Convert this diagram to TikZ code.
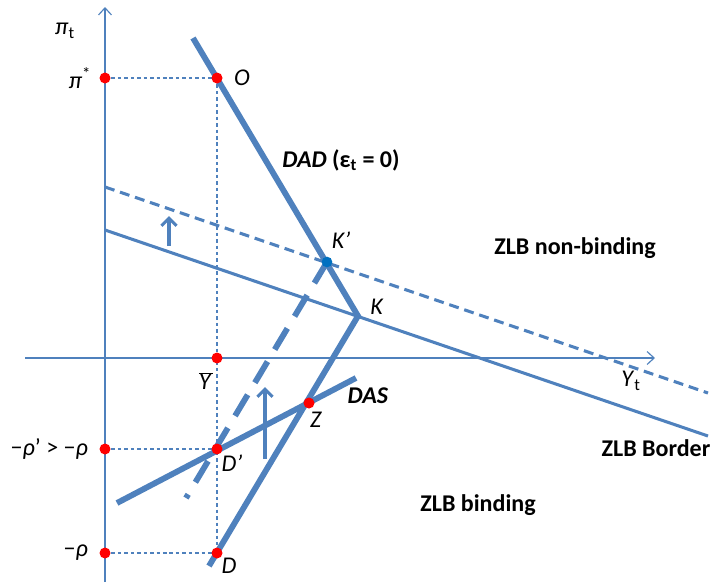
\documentclass[tikz,border=0pt]{standalone}
\usepackage{fontspec}
\setmainfont{Carlito}
\usepackage{tikz}
\usetikzlibrary{arrows.meta, positioning}
\usepackage{xcolor}
\definecolor{cLine}{RGB}{79,129,189}
\definecolor{cRed}{RGB}{255,0,0}
\definecolor{cKdot}{RGB}{0,112,192}
\tikzset{
  axisline/.style={draw=cLine, line width=1pt,
                   -{Straight Barb[length=6pt, width=11pt]}},
  guideline/.style={draw=cLine, line width=0.9pt, dash pattern=on 3pt off 2.5pt},
  curveline/.style={draw=cLine, line width=5pt},
  curvedashed/.style={curveline, dash pattern=on 21pt off 12pt},
  zlbline/.style={draw=cLine, line width=2.6pt},
  zlbdashed/.style={zlbline, dash pattern=on 8.5pt off 5pt},
  shiftarrow/.style={draw=cLine, line width=2.6pt,
                     -{Straight Barb[length=6.5pt, width=13pt]}},
  reddot/.style={circle, fill=cRed, inner sep=0pt, minimum size=0.33cm},
  bluedot/.style={circle, fill=cKdot, inner sep=0pt, minimum size=0.32cm},
  lbl/.style={font=\fontsize{20.5}{24}\selectfont, inner sep=1pt},
  boldlbl/.style={font=\fontsize{20.5}{24}\selectfont\bfseries, inner sep=1pt}
}

\begin{document}
\begin{tikzpicture}[x=0.03cm, y=-0.03cm]
  \useasboundingbox (0,0) rectangle (714,583);

  % ── Axes ──
  \coordinate (ybot) at (105,582);
  \coordinate (ytop) at (105,7);
  \coordinate (xleft) at (25,358);
  \coordinate (xright) at (655,358);
  \draw[axisline] (ybot) -- (ytop);
  \draw[axisline] (xleft) -- (xright);

  % ── Points ──
  \coordinate (O) at (217,78);
  \coordinate (Ybar) at (217,358);
  \coordinate (Dp) at (217,449);
  \coordinate (D) at (217,553);
  \coordinate (Z) at (309,403);
  \coordinate (K) at (358,316);
  \coordinate (Kp) at (327,262);
  \coordinate (pistar) at (105,78);
  \coordinate (rhop) at (105,449);
  \coordinate (rho) at (105,553);

  % ── Guides ──
  \draw[guideline] (O) -- (D);
  \draw[guideline] (pistar) -- (O);
  \draw[guideline] (rhop) -- (Dp);
  \draw[guideline] (rho) -- (D);

  % ── ZLB lines ──
  \coordinate (zlbA) at (105,230);
  \coordinate (zlbB) at (708,436);
  \coordinate (zlbC) at (105,187);
  \coordinate (zlbD) at (708,393);
  \draw[zlbline] (zlbA) -- (zlbB);
  \draw[zlbdashed] (zlbC) -- (zlbD);

  % ── DAD, DAS ──
  \coordinate (dadtop) at (193,38);
  \coordinate (dadbot) at (209,566);
  \coordinate (dasL) at (117,503);
  \coordinate (dasR) at (356,378);
  \coordinate (dadsh) at (186,498);
  \draw[curveline] (dadtop) -- (K) -- (dadbot);
  \draw[curveline] (dasL) -- (dasR);
  \draw[curvedashed] (Kp) -- (dadsh);

  % ── Shift arrows ──
  \coordinate (up1a) at (169,246);
  \coordinate (up1b) at (169,216);
  \coordinate (up2a) at (265,459);
  \coordinate (up2b) at (265,387);
  \draw[shiftarrow] (up1a) -- (up1b);
  \draw[shiftarrow] (up2a) -- (up2b);

  % ── Dots ──
  \foreach \p in {O, Ybar, Dp, D, Z, pistar, rhop, rho}
    \node[reddot] (dot\p) at (\p) {};
  \node[bluedot] (dotKp) at (Kp) {};

  % ── Labels ──
  \node[lbl] (lpit) at (65,31) {\textit{π}\textsubscript{t}};
  \node[lbl, left=0.2cm of dotpistar] (lpistar) {\textit{π}\textsuperscript{*}};
  \node[lbl, left=0.3cm of dotrhop] (lrhop) {−\textit{ρ}’ > −\textit{ρ}};
  \node[lbl, left=0.3cm of dotrho] (lrho) {−\textit{ρ}};
  \node[lbl, right=0.3cm of dotO] (lO) {\textit{O}};
  \node[lbl] (lKp) at (341,240) {\textit{K’}};
  \node[lbl] (lK) at (377,307) {\textit{K}};
  \node[lbl] (lYbar) at (206,381) {$\overline{\mbox{\textit{Y}\kern1pt}}$};
  \node[lbl] (lDp) at (232,463) {\textit{D’}};
  \node[lbl] (lD) at (229,566) {\textit{D}};
  \node[lbl] (lZ) at (316,420) {\textit{Z}};
  \node[lbl] (lYt) at (631,381) {\textit{Y}\textsubscript{t}};
  \node[boldlbl] (lDAS) at (368,396) {\textit{DAS}};
  \node[boldlbl] (lDAD) at (341,160)
      {\textit{DAD} (ε\textsubscript{t} = 0)};
  \node[boldlbl] (lnonb) at (575,248) {ZLB non-binding};
  \node[boldlbl] (lborder) at (656,448) {ZLB Border};
  \node[boldlbl] (lbind) at (478,505) {ZLB binding};

\end{tikzpicture}
\end{document}
